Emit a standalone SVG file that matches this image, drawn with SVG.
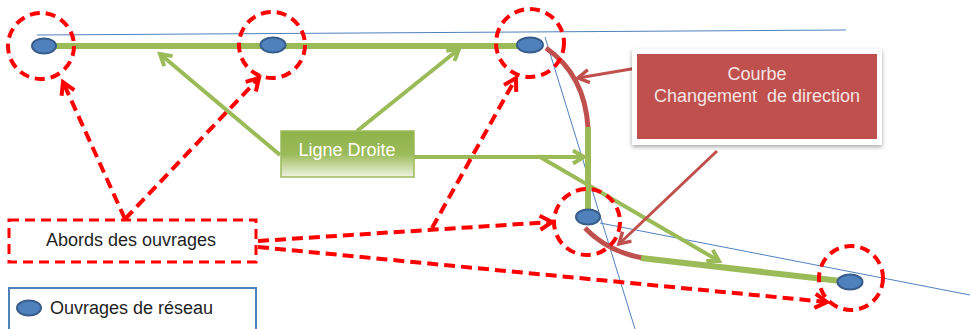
<svg xmlns="http://www.w3.org/2000/svg" width="970" height="329" viewBox="0 0 970 329">
<style>
.guide{stroke:#4F81BD;stroke-width:1;fill:none}
.track{stroke:#9BBB59;stroke-width:6;fill:none}
.curve{stroke:#C0504D;stroke-width:5;fill:none}
.garrow{stroke:#9BBB59;stroke-width:4;fill:none;marker-end:url(#ga)}
.rarrow{stroke:#C0504D;stroke-width:3;fill:none;marker-end:url(#ra)}
.darrow{stroke:#FF0000;stroke-width:4;fill:none;stroke-dasharray:11 6;marker-end:url(#da)}
.zone{stroke:#FF0000;stroke-width:4;fill:none;stroke-dasharray:10 6}
.site{fill:#4F81BD;stroke:#385D8A;stroke-width:2}
.lbl{font-family:"Liberation Sans",Arial,sans-serif;font-size:18px}
</style>
<defs>
<marker id="ga" markerUnits="userSpaceOnUse" viewBox="0 0 16 16" refX="13" refY="8" markerWidth="16" markerHeight="16" orient="auto">
<path d="M2,1.5 L13,8 L2,14.5" fill="none" stroke="#9BBB59" stroke-width="4"/>
</marker>
<marker id="ra" markerUnits="userSpaceOnUse" viewBox="0 0 16 16" refX="13" refY="8" markerWidth="16" markerHeight="16" orient="auto">
<path d="M2,1.5 L13,8 L2,14.5" fill="none" stroke="#C0504D" stroke-width="3.5"/>
</marker>
<marker id="da" markerUnits="userSpaceOnUse" viewBox="0 0 18 18" refX="14" refY="9" markerWidth="18" markerHeight="18" orient="auto">
<path d="M2,2 L14,9 L2,16" fill="none" stroke="#FF0000" stroke-width="4"/>
</marker>
<linearGradient id="gg" x1="0" y1="0" x2="0" y2="1">
<stop offset="0" stop-color="#8FB34A"/>
<stop offset="0.5" stop-color="#9BBB59"/>
<stop offset="1" stop-color="#EEF3E2"/>
</linearGradient>
<filter id="sh" x="-10%" y="-10%" width="120%" height="130%">
<feDropShadow dx="0" dy="2" stdDeviation="2" flood-color="#000" flood-opacity="0.35"/>
</filter>
</defs>
<rect width="970" height="329" fill="#FFFFFF"/>

<g id="guides">
<line class="guide" x1="37" y1="35" x2="846" y2="30"/>
<line class="guide" x1="545" y1="37" x2="635" y2="329"/>
<line class="guide" x1="600" y1="223" x2="970" y2="295"/>
</g>

<g id="tracks">
<line class="track" x1="44" y1="46" x2="530" y2="46"/>
<path class="curve" d="M546,48 Q585,75 588,128"/>
<line class="track" x1="588" y1="127" x2="588" y2="214"/>
<path class="curve" d="M585,228 Q608,252 643,258"/>
<line class="track" x1="641" y1="258" x2="850" y2="282"/>
</g>

<g id="connectors">
<line class="garrow" x1="280" y1="155" x2="160" y2="54"/>
<line class="garrow" x1="357" y1="131" x2="459" y2="49"/>
<line class="garrow" x1="414" y1="157" x2="584" y2="157"/>
<line class="garrow" x1="540" y1="157" x2="719" y2="261"/>
<line class="rarrow" x1="637" y1="68" x2="578" y2="78"/>
<line class="rarrow" x1="717" y1="151" x2="619" y2="244"/>
<line class="darrow" x1="125" y1="219" x2="63" y2="82"/>
<line class="darrow" x1="125" y1="219" x2="259" y2="78"/>
<line class="darrow" x1="258" y1="241" x2="552" y2="222"/>
<line class="darrow" x1="432" y1="228" x2="516" y2="78"/>
<line class="darrow" x1="258" y1="247" x2="827" y2="302"/>
</g>

<g id="node-1">
<ellipse class="site" cx="44" cy="46" rx="12" ry="7.5"/>
<circle class="zone" cx="41" cy="46" r="33"/>
</g>
<g id="node-2">
<ellipse class="site" cx="273" cy="45" rx="12.5" ry="7.5"/>
<circle class="zone" cx="272" cy="45" r="33"/>
</g>
<g id="node-3">
<ellipse class="site" cx="530" cy="45" rx="13" ry="7.5"/>
<circle class="zone" cx="530" cy="43" r="34"/>
</g>
<g id="node-4">
<ellipse class="site" cx="588" cy="217" rx="12" ry="7.5"/>
<circle class="zone" cx="587" cy="222" r="33"/>
</g>
<g id="node-5">
<ellipse class="site" cx="850" cy="282" rx="12.5" ry="7.5"/>
<circle class="zone" cx="851" cy="278" r="32"/>
</g>

<g id="courbe-box">
<rect x="632" y="49" width="250" height="96" fill="#FFFFFF" filter="url(#sh)"/>
<rect x="637" y="54" width="240" height="85" fill="#C0504D"/>
<text class="lbl" x="757" y="80" text-anchor="middle" fill="#F4E4E3">Courbe</text>
<text class="lbl" x="757" y="102" text-anchor="middle" fill="#F4E4E3" xml:space="preserve">Changement  de direction</text>
</g>

<g id="ligne-droite">
<rect x="281" y="131" width="133" height="46" fill="url(#gg)" stroke="#9BBB59" stroke-width="1.5"/>
<text class="lbl" x="347" y="156" text-anchor="middle" fill="#FFFFFF">Ligne Droite</text>
</g>

<g id="abords">
<rect x="9" y="220" width="247" height="42" fill="#FFFFFF" stroke="#FF0000" stroke-width="3" stroke-dasharray="10 6"/>
<text class="lbl" x="131" y="246" text-anchor="middle" fill="#1F1F1F">Abords des ouvrages</text>
</g>

<g id="legend">
<rect x="9" y="288" width="247" height="46" fill="#FFFFFF" stroke="#4F81BD" stroke-width="2"/>
<ellipse class="site" cx="29" cy="308" rx="12" ry="7.5"/>
<text class="lbl" x="50" y="314" fill="#1F1F1F">Ouvrages de réseau</text>
</g>
</svg>
